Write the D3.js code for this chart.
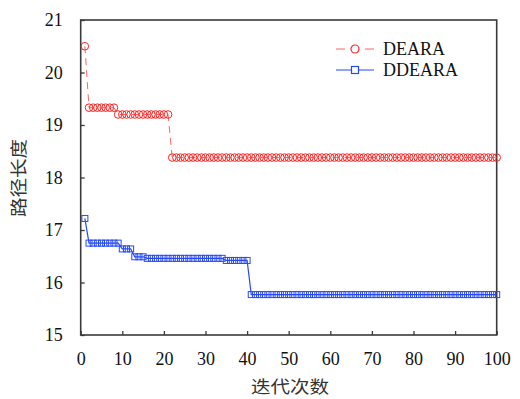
<!DOCTYPE html>
<html>
<head>
<meta charset="utf-8">
<script src="https://cdn.jsdelivr.net/npm/d3@7"></script>
<style>
  body { margin: 0; background: #fff; }
  svg { display: block; }
  .serif { font-family: "Liberation Serif", "DejaVu Serif", serif; }
</style>
</head>
<body>
<div id="chart"></div>
<script>
// path length per iteration
const seriesNames = ['DEARA', 'DDEARA'];
const deara = [
  20.5,
  19.33, 19.33, 19.33, 19.33, 19.33, 19.33, 19.33,
  19.2, 19.2, 19.2, 19.2, 19.2, 19.2, 19.2, 19.2, 19.2, 19.2, 19.2, 19.2, 19.2,
  18.38, 18.38, 18.38, 18.38, 18.38, 18.38, 18.38, 18.38, 18.38, 18.38,
  18.38, 18.38, 18.38, 18.38, 18.38, 18.38, 18.38, 18.38, 18.38, 18.38,
  18.38, 18.38, 18.38, 18.38, 18.38, 18.38, 18.38, 18.38, 18.38, 18.38,
  18.38, 18.38, 18.38, 18.38, 18.38, 18.38, 18.38, 18.38, 18.38, 18.38,
  18.38, 18.38, 18.38, 18.38, 18.38, 18.38, 18.38, 18.38, 18.38, 18.38,
  18.38, 18.38, 18.38, 18.38, 18.38, 18.38, 18.38, 18.38, 18.38, 18.38,
  18.38, 18.38, 18.38, 18.38, 18.38, 18.38, 18.38, 18.38, 18.38, 18.38,
  18.38, 18.38, 18.38, 18.38, 18.38, 18.38, 18.38, 18.38, 18.38
];
const ddeara = [
  17.22,
  16.75, 16.75, 16.75, 16.75, 16.75, 16.75, 16.75, 16.75,
  16.64, 16.64, 16.64,
  16.49, 16.49, 16.49,
  16.46, 16.46, 16.46, 16.46, 16.46, 16.46, 16.46, 16.46, 16.46, 16.46,
  16.46, 16.46, 16.46, 16.46, 16.46, 16.46, 16.46, 16.46, 16.46,
  16.42, 16.42, 16.42, 16.42, 16.42, 16.42,
  15.77, 15.77, 15.77, 15.77, 15.77, 15.77, 15.77, 15.77, 15.77, 15.77,
  15.77, 15.77, 15.77, 15.77, 15.77, 15.77, 15.77, 15.77, 15.77, 15.77,
  15.77, 15.77, 15.77, 15.77, 15.77, 15.77, 15.77, 15.77, 15.77, 15.77,
  15.77, 15.77, 15.77, 15.77, 15.77, 15.77, 15.77, 15.77, 15.77, 15.77,
  15.77, 15.77, 15.77, 15.77, 15.77, 15.77, 15.77, 15.77, 15.77, 15.77,
  15.77, 15.77, 15.77, 15.77, 15.77, 15.77, 15.77, 15.77, 15.77, 15.77
];
const xTicks = [0, 10, 20, 30, 40, 50, 60, 70, 80, 90, 100];
const yTicks = [15, 16, 17, 18, 19, 20, 21];
const xLabel = '迭代次数';
const yLabel = '路径长度';

const width = 520;
const height = 399;
const margin = { top: 20, right: 23.3, bottom: 64, left: 80.7 };

const svg = d3.select('#chart').append('svg')
  .attr('width', width)
  .attr('height', height);

const x = d3.scaleLinear().domain([0, 100]).range([margin.left, width - margin.right]);
const y = d3.scaleLinear().domain([15, 21]).range([height - margin.bottom, margin.top]);

const serif = '"Liberation Serif", "DejaVu Serif", serif';
const cjk = '"Noto Sans CJK SC", sans-serif';
const axisColor = '#3a3a3a';

// axes (ticks point inward)
const gx = svg.append('g')
  .attr('transform', `translate(0,${y(15)})`)
  .call(d3.axisBottom(x).tickValues(xTicks).tickFormat(d3.format('d'))
    .tickSize(-4).tickSizeOuter(0).tickPadding(17));
const gy = svg.append('g')
  .attr('transform', `translate(${x(0)},0)`)
  .call(d3.axisLeft(y).tickValues(yTicks).tickFormat(d3.format('d'))
    .tickSize(-4).tickSizeOuter(0).tickPadding(18));

[gx, gy].forEach(g => {
  g.attr('font-family', serif).attr('font-size', 18);
  g.select('.domain').remove();
  g.selectAll('.tick line').attr('stroke', axisColor).attr('stroke-width', 1.3);
  g.selectAll('.tick text')
    .attr('class', 'serif')
    .attr('fill', '#111');
});

// frame
svg.append('rect')
  .attr('x', x(0))
  .attr('y', y(21))
  .attr('width', x(100) - x(0))
  .attr('height', y(15) - y(21))
  .attr('fill', 'none')
  .attr('stroke', axisColor)
  .attr('stroke-width', 1.6);

const red = '#ff2424';
const blue = '#2549ff';

const line = d3.line()
  .x((d, i) => x(i + 1))
  .y(d => y(d));

// DEARA: dashed line, open circles
svg.append('path')
  .datum(deara)
  .attr('d', line)
  .attr('fill', 'none')
  .attr('stroke', red)
  .attr('stroke-opacity', 0.7)
  .attr('stroke-width', 1)
  .attr('stroke-dasharray', '7,5');

svg.append('g').selectAll('circle')
  .data(deara)
  .enter().append('circle')
  .attr('cx', (d, i) => x(i + 1))
  .attr('cy', d => y(d))
  .attr('r', 3.8)
  .attr('fill', 'none')
  .attr('stroke', red)
  .attr('stroke-width', 1);

// DDEARA: solid line, open squares
svg.append('path')
  .datum(ddeara)
  .attr('d', line)
  .attr('fill', 'none')
  .attr('stroke', blue)
  .attr('stroke-width', 1.2);

const sq = 6;
svg.append('g').selectAll('rect')
  .data(ddeara)
  .enter().append('rect')
  .attr('x', (d, i) => x(i + 1) - sq / 2)
  .attr('y', d => y(d) - sq / 2)
  .attr('width', sq)
  .attr('height', sq)
  .attr('fill', 'none')
  .attr('stroke', blue)
  .attr('stroke-width', 1);

// legend
const legend = svg.append('g').attr('transform', 'translate(336,49)');
const items = legend.selectAll('g')
  .data(seriesNames)
  .enter().append('g')
  .attr('transform', (d, i) => `translate(0,${i * 21})`);

items.append('line')
  .attr('x1', 0).attr('x2', 38)
  .attr('stroke', (d, i) => i === 0 ? red : blue)
  .attr('stroke-opacity', (d, i) => i === 0 ? 0.7 : 1)
  .attr('stroke-width', 1.2)
  .attr('stroke-dasharray', (d, i) => i === 0 ? '9,20' : null);

items.filter((d, i) => i === 0).append('circle')
  .attr('cx', 19).attr('r', 4)
  .attr('fill', 'none').attr('stroke', red).attr('stroke-width', 1.2);

items.filter((d, i) => i === 1).append('rect')
  .attr('x', 19 - 3.5).attr('y', -3.5).attr('width', 7).attr('height', 7)
  .attr('fill', '#fff').attr('stroke', blue).attr('stroke-width', 1.2);

items.append('text')
  .attr('class', 'serif')
  .attr('x', 47)
  .attr('dy', '0.35em')
  .attr('font-size', 18)
  .attr('fill', '#111')
  .text(d => d);

// axis titles
svg.append('text')
  .attr('x', 290)
  .attr('y', 393)
  .attr('text-anchor', 'middle')
  .attr('font-family', cjk)
  .attr('font-size', 17)
  .attr('fill', '#333')
  .attr('transform', 'translate(290,0) scale(1.15,1) translate(-290,0)')
  .text(xLabel);

svg.append('text')
  .attr('transform', 'translate(25,178) rotate(-90) scale(1.15,1)')
  .attr('text-anchor', 'middle')
  .attr('font-family', cjk)
  .attr('font-size', 17)
  .attr('fill', '#333')
  .text(yLabel);
</script>
</body>
</html>
